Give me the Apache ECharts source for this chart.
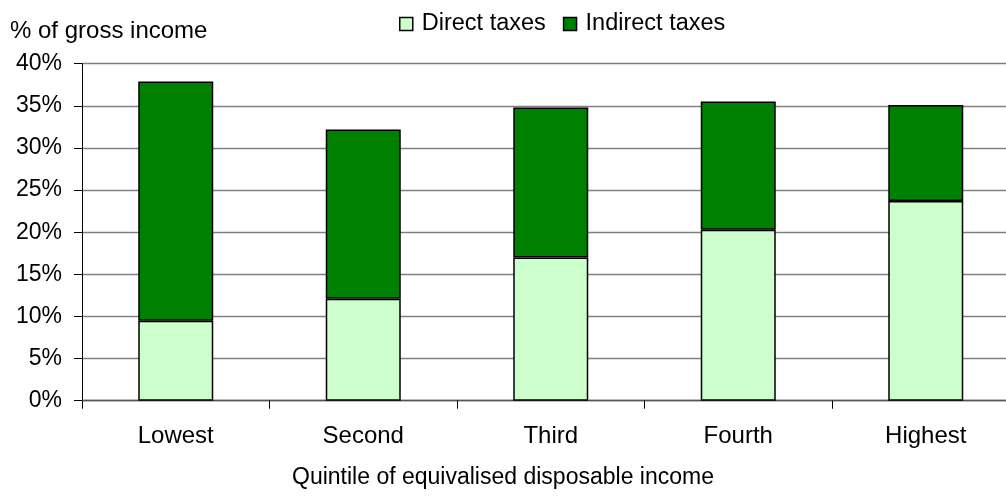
<!DOCTYPE html>
<html>
<head>
<meta charset="utf-8">
<script src="https://cdn.jsdelivr.net/npm/echarts@6/dist/echarts.min.js"></script>
<style>
html,body{margin:0;padding:0;background:#fff;}
#chart{width:1006px;height:498px;}
</style>
</head>
<body>
<div id="chart"></div>
<script>
const categories = ['Lowest', 'Second', 'Third', 'Fourth', 'Highest'];
const directTaxes = [9.5, 12.1, 17.0, 20.3, 23.7];
const indirectTaxes = [28.4, 20.1, 17.8, 15.2, 11.4];
const yTicks = [0, 5, 10, 15, 20, 25, 30, 35, 40];
const seriesNames = ['Direct taxes', 'Indirect taxes'];
const yTitle = '% of gross income';
const xTitle = 'Quintile of equivalised disposable income';

const FONT = '"Liberation Sans", Arial, sans-serif';
const chart = echarts.init(document.getElementById('chart'), null, {renderer: 'canvas'});
chart.setOption({
  animation: false,
  backgroundColor: '#ffffff',
  textStyle: {fontFamily: FONT, color: '#000'},
  title: [
    {text: yTitle, left: 10, top: 19, textStyle: {fontFamily: FONT, fontSize: 24, fontWeight: 'normal', color: '#000'}, padding: 0},
    {text: xTitle, left: 'center', top: 466, textStyle: {fontFamily: FONT, fontSize: 23, fontWeight: 'normal', color: '#000'}, padding: 0}
  ],
  legend: {
    left: 399, top: 12, padding: 0,
    itemWidth: 13, itemHeight: 13, itemGap: 17,
    icon: 'rect',
    itemStyle: {borderColor: '#000', borderWidth: 1.5},
    textStyle: {fontFamily: FONT, fontSize: 23.5, color: '#000', padding: [0,0,0,4]},
    data: seriesNames
  },
  grid: {left: 82, top: 63.7, width: 937.5, height: 337, containLabel: false, outerBoundsMode: 'none'},
  xAxis: {
    type: 'category',
    data: categories,
    boundaryGap: true,
    axisLine: {lineStyle: {color: '#555', width: 1.3}},
    axisTick: {show: true, length: 8, alignWithLabel: false, lineStyle: {color: '#000'}},
    axisLabel: {fontFamily: FONT, fontSize: 24, color: '#000', margin: 24}
  },
  yAxis: {
    type: 'value',
    min: yTicks[0], max: yTicks[yTicks.length-1], interval: 5,
    axisLine: {show: true, lineStyle: {color: '#000', width: 1}},
    axisTick: {show: true, length: 8, lineStyle: {color: '#000'}},
    axisLabel: {fontFamily: FONT, fontSize: 23, color: '#000', margin: 20, formatter: '{value}%'},
    splitLine: {show: true, lineStyle: {color: '#808080', width: 1.3}}
  },
  series: [
    {name: seriesNames[0], type: 'bar', stack: 'tax', data: directTaxes, barWidth: 75,
     itemStyle: {color: '#CCFFCC', borderColor: '#000', borderWidth: 1.5}},
    {name: seriesNames[1], type: 'bar', stack: 'tax', data: indirectTaxes, barWidth: 75,
     itemStyle: {color: '#008000', borderColor: '#000', borderWidth: 1.5}}
  ]
});
</script>
</body>
</html>
